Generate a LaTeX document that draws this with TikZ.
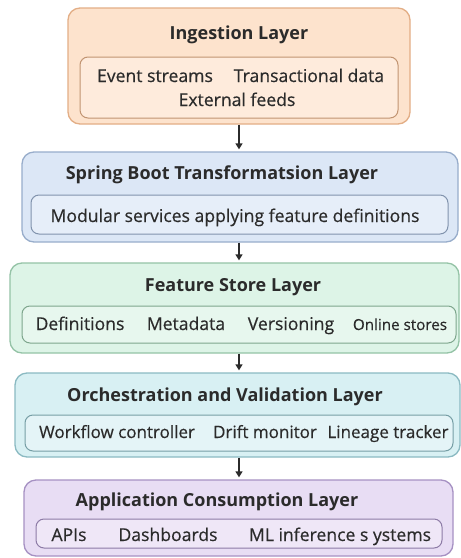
\documentclass[tikz,border=0pt]{standalone}
\usepackage{fontspec}
\setmainfont{Open Sans}
\newfontfamily\medfont{Open Sans}[FakeBold=0.45]
\usetikzlibrary{arrows.meta}
\definecolor{txt}{HTML}{2B2B2B}
\definecolor{aFill}{HTML}{FDE3CD}\definecolor{aLine}{HTML}{E3AE86}
\definecolor{bFill}{HTML}{DCE7F6}\definecolor{bLine}{HTML}{98ADCB}
\definecolor{cFill}{HTML}{DDF4E7}\definecolor{cLine}{HTML}{94C3A6}
\definecolor{dFill}{HTML}{D8F0F3}\definecolor{dLine}{HTML}{8BBAC2}
\definecolor{eFill}{HTML}{E8DDF4}\definecolor{eLine}{HTML}{A691C3}
\tikzset{
  outerbox/.style={draw=#1Line, fill=#1Fill, line width=1.3pt, rounded corners=12pt, inner sep=0pt},
  innerbox/.style={draw=#1Line!85!black, fill=#1Fill!70!white, line width=1pt, rounded corners=8pt, inner sep=0pt},
  title/.style={text=txt, inner sep=0pt, anchor=base, font=\fontsize{18}{20}\selectfont\bfseries},
  item/.style={text=txt, inner sep=0pt, anchor=base, font=\medfont\fontsize{17.6}{20}\selectfont},
  smallitem/.style={text=txt, inner sep=0pt, anchor=base, font=\medfont\fontsize{15.2}{17}\selectfont},
  arr/.style={draw=txt, line width=1.4pt, -{Triangle[length=6pt,width=7pt]}, shorten >=2pt}
}
\begin{document}
\begin{tikzpicture}[x=1pt,y=-1pt]
\useasboundingbox[fill=white] (0,0) rectangle (461,558);
% Layer 1
\node[outerbox=a, minimum width=342pt, minimum height=116pt] (b1) at (239,66) {};
\node[title] (t1) at (239,39) {Ingestion Layer};
\node[innerbox=a, minimum width=318pt, minimum height=61pt] (i1) at (239,87.5) {};
\node[item] (p1a) at (155,82) {Event streams};
\node[item] (p1b) at (309,82) {Transactional data};
\node[item] (p1c) at (237,106) {External feeds};
% Layer 2
\node[outerbox=b, minimum width=436pt, minimum height=90pt] (b2) at (240,197) {};
\node[title] (t2) at (222,179) {Spring Boot Transformatsion Layer};
\node[innerbox=b, minimum width=417pt, minimum height=39pt] (i2) at (239.5,214.5) {};
\node[item] (p2a) at (235,222) {Modular services applying feature definitions};
% Layer 3
\node[outerbox=c, minimum width=449pt, minimum height=90pt] (b3) at (234.5,308) {};
\node[title] (t3) at (233,291) {Feature Store Layer};
\node[innerbox=c, minimum width=434pt, minimum height=37pt] (i3) at (239,324.5) {};
\node[item] (p3a) at (80,330) {Definitions};
\node[item] (p3b) at (186,330) {Metadata};
\node[item] (p3c) at (291,330) {Versioning};
\node[smallitem] (p3d) at (400,330) {Online stores};
% Layer 4
\node[outerbox=d, minimum width=445pt, minimum height=84pt] (b4) at (237.5,415) {};
\node[title] (t4) at (225,401) {Orchestration and Validation Layer};
\node[innerbox=d, minimum width=428pt, minimum height=36pt] (i4) at (239,433) {};
\node[item, font=\medfont\fontsize{17}{20}\selectfont] (p4a) at (117,438) {Workflow controller};
\node[item, font=\medfont\fontsize{17}{20}\selectfont] (p4b) at (265,438) {Drift monitor};
\node[item, font=\medfont\fontsize{17}{20}\selectfont] (p4c) at (388,438) {Lineage tracker};
% Layer 5
\node[outerbox=e, minimum width=429pt, minimum height=76pt] (b5) at (238.5,518) {};
\node[title] (t5) at (217,506) {Application Consumption Layer};
\node[innerbox=e, minimum width=406pt, minimum height=29pt] (i5) at (239,533.5) {};
\node[item] (p5a) at (69,541) {APIs};
\node[item] (p5b) at (168,541) {Dashboards};
\node[item] (p5c) at (340,541) {ML inference s ystems};
% Arrows
\draw[arr] (b1.south) -- (b1.south |- b2.north);
\draw[arr] (b2.south -| b1.south) -- (b1.south |- b3.north);
\draw[arr] (b3.south -| b1.south) -- (b1.south |- b4.north);
\draw[arr] (b4.south -| b1.south) -- (b1.south |- b5.north);
\end{tikzpicture}
\end{document}
